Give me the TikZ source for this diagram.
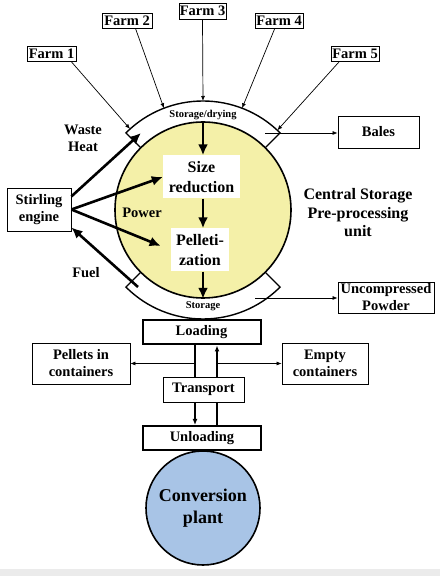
\documentclass[tikz,border=0pt]{standalone}
\usepackage{fontspec}
\setmainfont{Liberation Serif}
\usetikzlibrary{arrows.meta, calc}

\definecolor{unityellow}{HTML}{F4F0A8}
\definecolor{plantblue}{HTML}{A8C4E6}
\definecolor{stripgray}{HTML}{EBEBEB}

\tikzset{
  lbl/.style={font=\bfseries\fontsize{14.5}{17}\selectfont, align=center},
  farmbox/.style={lbl, draw, line width=0.8pt, inner sep=0pt, minimum height=15pt},
  sidebox/.style={lbl, draw, line width=0.8pt, inner sep=0pt},
  innerbox/.style={lbl, font=\bfseries\fontsize{16}{20}\selectfont, fill=white, inner sep=0pt, minimum height=43pt},
  stagebox/.style={lbl, draw, line width=2pt, inner sep=0pt, minimum width=118pt, minimum height=24pt},
  thin arrow/.style={-{Latex[length=5pt,width=4pt]}, line width=0.7pt},
  thick arrow/.style={-{Latex[length=11pt,width=10pt]}, line width=2.6pt},
}

\begin{document}
\begin{tikzpicture}[x=1pt,y=1pt]
\useasboundingbox (0,0) rectangle (440,576);
\fill[stripgray] (0,0) rectangle (440,7);

% farms
\node[farmbox, minimum width=49pt](f1) at (51.5,522.5){Farm 1};
\node[farmbox, minimum width=50pt](f2) at (127,555.5){Farm 2};
\node[farmbox, minimum width=47pt, minimum height=16pt](f3) at (202.5,565){Farm 3};
\node[farmbox, minimum width=48pt](f4) at (279,555.5){Farm 4};
\node[farmbox, minimum width=48pt](f5) at (355,522.5){Farm 5};

% central storage unit
\coordinate (c) at (203,366);
\node[circle, draw, line width=1.6pt, fill=unityellow, minimum size=176pt, inner sep=0pt](unit) at (c){};
\draw[line width=1.4pt] (unit.135) -- ($(c)+(135:109)$) arc[start angle=135, end angle=45, radius=109] -- (unit.45);
\draw[line width=1.4pt] (unit.225) -- ($(c)+(225:109)$) arc[start angle=225, end angle=315, radius=109] -- (unit.315);
\node[font=\bfseries\fontsize{10.5}{12}\selectfont](drying) at (203,461){Storage/drying};
\node[font=\bfseries\fontsize{10.5}{12}\selectfont](storage) at (203,270){Storage};

\coordinate (in1) at ($(c)+(132:109)$);
\coordinate (in2) at ($(c)+(111:109)$);
\coordinate (in3) at ($(c)+(90:109)$);
\coordinate (in4) at ($(c)+(69:109)$);
\coordinate (in5) at ($(c)+(47:109)$);
\draw[thin arrow] (f1.-22) -- (in1);
\draw[thin arrow] (f2.-43) -- (in2);
\draw[thin arrow] (f3.south) -- (in3);
\draw[thin arrow] (f4.242) -- (in4);
\draw[thin arrow] (f5.207) -- (in5);

\node[innerbox, minimum width=77pt](size) at (201.5,399){Size\\reduction};
\node[innerbox, minimum width=58pt](pell) at (200,326){Pelleti-\\zation};
\draw[thick arrow] (unit.north) -- (unit.north |- size.north);
\draw[thick arrow] (unit.north |- size.south) -- (unit.north |- pell.north);
\draw[thick arrow] (unit.north |- pell.south) -- (unit.south);
\node[lbl](power) at (142,363){Power};

% stirling engine
\node[sidebox, minimum width=64pt, minimum height=43pt](stirling) at (39,366.5){Stirling\\engine};
\coordinate (heat) at (141,443);
\coordinate (fuel) at (138,289);
\draw[thick arrow] (stirling.22) -- (heat);
\draw[thick arrow] (stirling.east) -- (size.west);
\draw[thick arrow, shorten >=11pt] (stirling.east) -- (pell.west);
\draw[thick arrow] (fuel) -- (stirling.-29);
\node[lbl](waste) at (83,437.5){Waste\\Heat};
\node[lbl](fuellbl) at (86,303){Fuel};

% products
\node[sidebox, minimum width=81pt, minimum height=32pt](bales) at (378.5,444){Bales};
\node[sidebox, minimum width=96pt, minimum height=31pt](powder) at (386,278.5){Uncompressed\\Powder};
\coordinate (balesout) at (265,443);
\coordinate (powderout) at (255,278);
\draw[thin arrow] (balesout) -- (balesout -| bales.west);
\draw[thin arrow] (powderout) -- (powderout -| powder.west);
\node[font=\bfseries\fontsize{16}{18.5}\selectfont, align=center](unitlbl) at (358,363){Central Storage\\Pre-processing\\unit};

% logistics
\node[stagebox](loading) at (201.5,243.5){Loading};
\node[sidebox, minimum width=98pt, minimum height=41pt](pellets) at (81,212.5){Pellets in\\containers};
\node[sidebox, minimum width=86pt, minimum height=41pt](empty) at (325,212.5){Empty\\containers};
\node[sidebox, minimum width=81pt, minimum height=25pt](transport) at (203.5,186.5){Transport};
\node[stagebox](unloading) at (202,138){Unloading};
\node[circle, draw, line width=1.6pt, fill=plantblue, minimum size=114pt, inner sep=0pt, lbl, font=\bfseries\fontsize{18}{22}\selectfont](plant) at (203,68){Conversion\\plant};

\coordinate (lx) at (195,0);
\coordinate (rx) at (217,0);
\draw[line width=1.4pt] (loading.south -| lx) -- (transport.north -| lx);
\draw[line width=1.4pt, -{Latex[length=6pt,width=5pt]}] (transport.north -| rx) -- (loading.south -| rx);
\draw[thin arrow] (lx |- pellets) -- (pellets);
\draw[thin arrow] (rx |- empty) -- (empty);
\draw[line width=1.4pt, -{Latex[length=6pt,width=5pt]}] (transport.south -| lx) -- (unloading.north -| lx);
\draw[line width=1.4pt] (unloading.north -| rx) -- (transport.south -| rx);
\end{tikzpicture}
\end{document}
